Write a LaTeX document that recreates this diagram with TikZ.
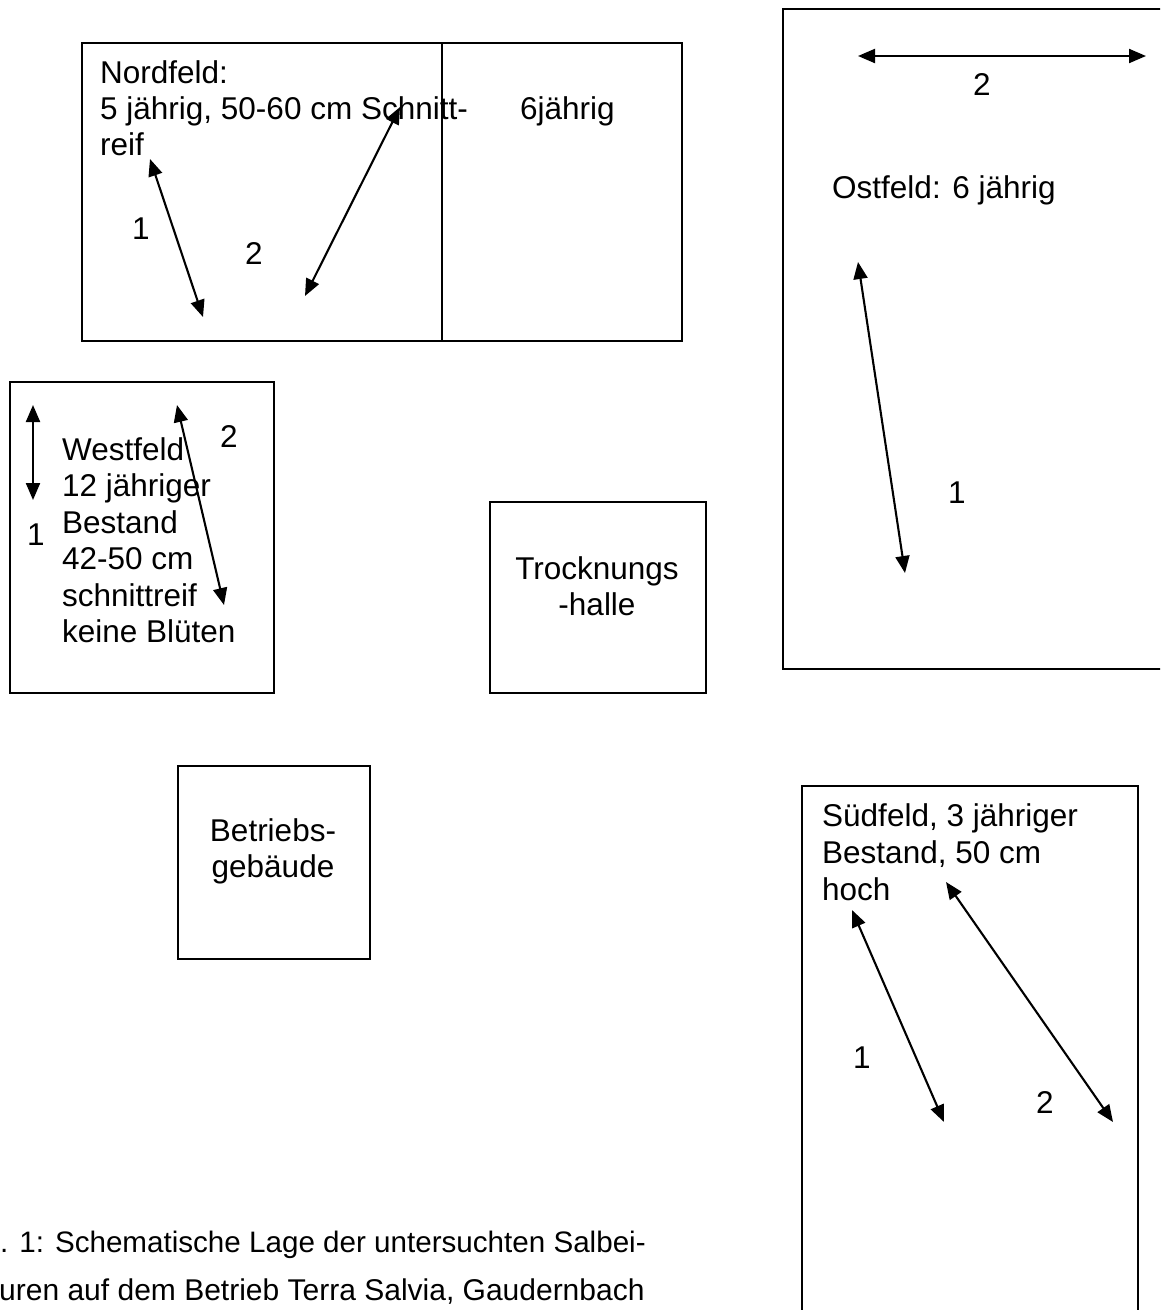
\documentclass[tikz,border=0pt]{standalone}
\usepackage{fontspec}
\setmainfont{Liberation Sans}
\usetikzlibrary{arrows.meta,calc}
\begin{document}
\begin{tikzpicture}[x=1pt,y=-1pt,
  box/.style={draw,line width=1.7pt,inner sep=0pt,anchor=north west},
  lbl/.style={anchor=base west,inner sep=0pt,font=\fontsize{31.5}{36.5}\selectfont},
  captxt/.style={anchor=base west,inner sep=0pt,font=\fontsize{30}{36}\selectfont},
  dbl/.style={line width=2.1pt,{Triangle[length=17pt,width=14pt]}-{Triangle[length=17pt,width=14pt]}},
]
\useasboundingbox (0,0) rectangle (1160,1310);
\clip (0,0) rectangle (1160,1310);
% boxes
\node[box,minimum width=600pt,minimum height=298pt] (nord) at (81,42) {};
\draw[line width=1.7pt] ($(nord.north west)!0.6!(nord.north east)$) -- ($(nord.south west)!0.6!(nord.south east)$);
\node[box,minimum width=264pt,minimum height=311pt] (west) at (9,381) {};
\node[box,minimum width=216pt,minimum height=191pt] (trock) at (489,501) {};
\node[box,minimum width=192pt,minimum height=193pt] (betr) at (177,765) {};
\node[box,minimum width=400pt,minimum height=660pt] (ost) at (782,8) {};
\node[box,minimum width=336pt,minimum height=560pt] (sued) at (801,785) {};
% Nordfeld texts
\node[lbl] (n1) at (100,83) {Nordfeld:};
\node[lbl] (n2) at (100,119) {5 jährig, 50-60 cm Schnitt-};
\node[lbl] (n3) at (100,155) {reif};
\node[lbl] (n6) at (520,119) {6jährig};
\node[lbl] (nl1) at (132,239) {1};
\node[lbl] (nl2) at (245,264) {2};
% Westfeld texts
\node[lbl] (w1) at (62,460) {Westfeld};
\node[lbl] (w2) at (62,496.5) {12 jähriger};
\node[lbl] (w3) at (62,533) {Bestand};
\node[lbl] (w4) at (62,569.5) {42-50 cm};
\node[lbl] (w5) at (62,606) {schnittreif};
\node[lbl] (w6) at (62,642.5) {keine Blüten};
\node[lbl] (wl1) at (27,545) {1};
\node[lbl] (wl2) at (220,447) {2};
% Trocknungshalle, Betriebsgebaeude
\node[lbl,anchor=base] (tr1) at (597,579) {Trocknungs};
\node[lbl,anchor=base] (tr2) at (597,615) {-halle};
\node[lbl,anchor=base] (be1) at (273,841) {Betriebs-};
\node[lbl,anchor=base] (be2) at (273,877) {gebäude};
% Ostfeld
\node[lbl] (ol2) at (973,95) {2};
\node[lbl] (o1) at (832,198) {Ostfeld: 6 jährig};
\node[lbl] (ol1) at (948,503) {1};
% Suedfeld
\node[lbl] (s1) at (822,826) {Südfeld, 3 jähriger};
\node[lbl] (s2) at (822,863) {Bestand, 50 cm};
\node[lbl] (s3) at (822,900) {hoch};
\node[lbl] (sl1) at (853,1068) {1};
\node[lbl] (sl2) at (1036,1113) {2};
% caption
\node[captxt,font=\fontsize{29.6}{36}\selectfont] (c1) at (0,1252) {. 1: Schematische Lage der untersuchten Salbei-};
\node[captxt] (c2) at (-1,1300) {uren auf dem Betrieb Terra Salvia, Gaudernbach};
% arrow end points
\coordinate (na1) at (150,159); \coordinate (nb1) at (203,317);
\coordinate (na2) at (400,107); \coordinate (nb2) at (305,296);
\coordinate (wa1) at (33,405);  \coordinate (wb1) at (33,500);
\coordinate (wa2) at (177,405); \coordinate (wb2) at (224,605);
\coordinate (oa2) at (858,56);  \coordinate (ob2) at (1146,56);
\coordinate (oa1) at (858,262); \coordinate (ob1) at (905,573);
\coordinate (sa1) at (852,910); \coordinate (sb1) at (944,1122);
\coordinate (sa2) at (946,882); \coordinate (sb2) at (1113,1122);
\draw[dbl] (na1) -- (nb1);
\draw[dbl] (na2) -- (nb2);
\draw[dbl] (wa1) -- (wb1);
\draw[dbl] (wa2) -- (wb2);
\draw[dbl] (oa2) -- (ob2);
\draw[dbl] (oa1) -- (ob1);
\draw[dbl] (sa1) -- (sb1);
\draw[dbl] (sa2) -- (sb2);
\end{tikzpicture}
\end{document}
